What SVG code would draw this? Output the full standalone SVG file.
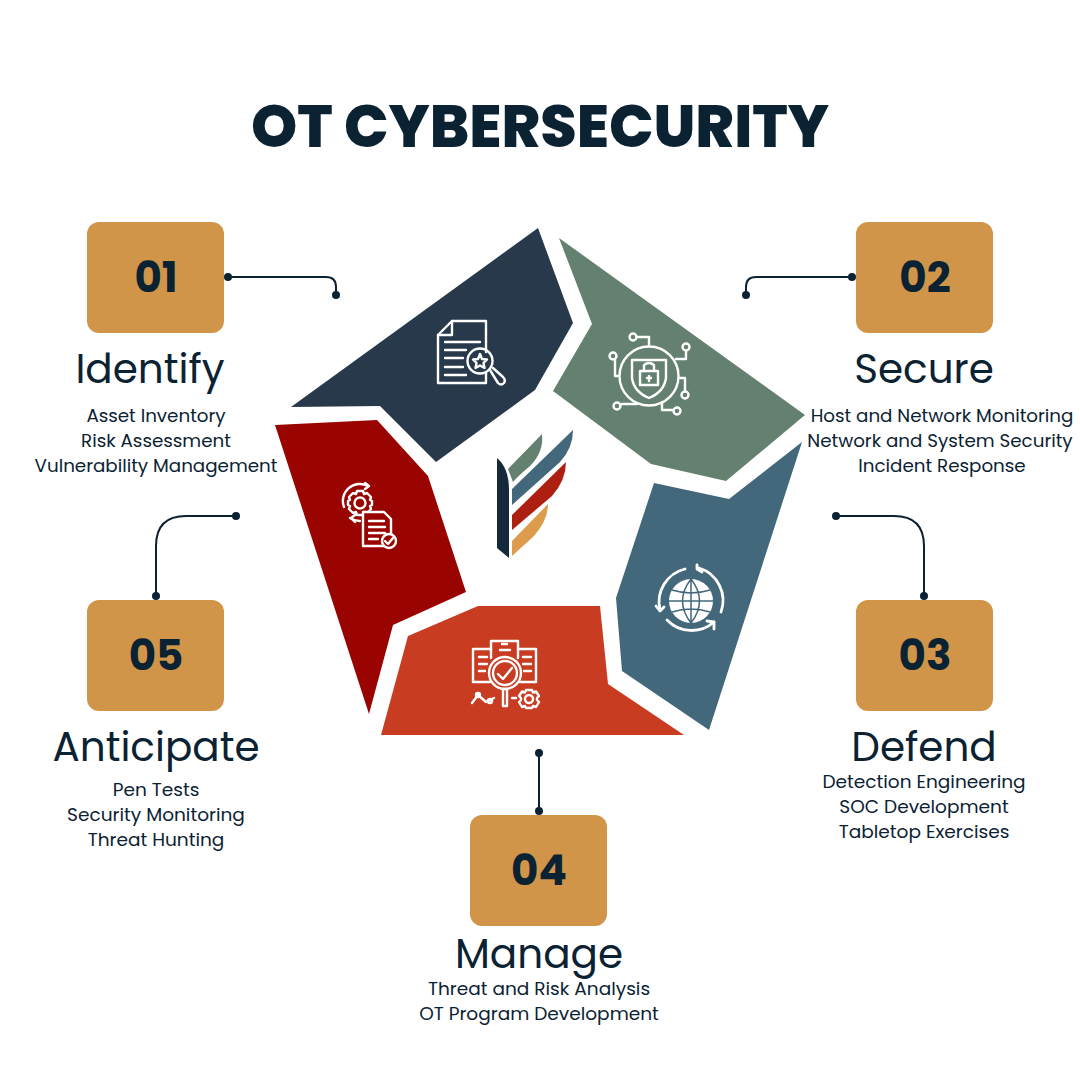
<svg xmlns="http://www.w3.org/2000/svg" width="1080" height="1080" viewBox="0 0 1080 1080">
<style>
text{font-family:Poppins,"Open Sans","Noto Sans",sans-serif;fill:#0b2233;text-anchor:middle}
.t{font-size:58.800px;font-weight:800}
.n{font-size:42px;font-weight:700}
.h{font-size:40.500px}
.s{font-size:18.300px}
.m{font-size:18.550px}
.b{fill:#d19549}
.c{fill:none;stroke:#0b2233;stroke-width:2}
.d{fill:#0b2233}
.i{fill:none;stroke:#fff;stroke-width:2.400;stroke-linejoin:round;stroke-linecap:round}
.f{fill:#fff}
</style>
<rect width="1080" height="1080" fill="#fff"/>
<text class="t" x="540" y="147">OT CYBERSECURITY</text>

<g id="connectors">
<path class="c" d="M228 277H326Q336 277 336 287V295"/><circle class="d" cx="228" cy="277" r="4"/><circle class="d" cx="336" cy="295" r="4"/>
<path class="c" d="M852 277H756Q746 277 746 287V295"/><circle class="d" cx="852" cy="277" r="4"/><circle class="d" cx="746" cy="295" r="4"/>
<path class="c" d="M836 516H894Q924 516 924 546V596"/><circle class="d" cx="836" cy="516" r="4"/><circle class="d" cx="924" cy="596" r="4"/>
<path class="c" d="M539 753V811"/><circle class="d" cx="539" cy="753" r="4"/><circle class="d" cx="539" cy="811" r="4"/>
<path class="c" d="M236 516H186Q156 516 156 546V596"/><circle class="d" cx="236" cy="516" r="4"/><circle class="d" cx="156" cy="596" r="4"/>
</g>

<g id="segment-identify">
<path fill="#27394a" d="M538 228L573 323L535 390L436 462L380 406L291 407Z"/>
<g class="i">
<path d="M486 352V321H452L438 335V383H486V373"/><path d="M452 321V335H438"/>
<path d="M445 342H480M445 350H466M445 358H463M445 367H463M445 375H466"/>
<circle cx="480" cy="361" r="12.500"/>
<path d="M480 354L482 359L487 359.500L483.500 363L484.500 368L480 365.500L475.500 368L476.500 363L473 359.500L478 359Z"/>
<path d="M490 370L498 383Q501 386 504 383Q506 380 503 377L493 368"/>
</g></g>

<g id="segment-secure">
<path fill="#648070" d="M559 238L805 415L726 481L651 464L553 391L592 324Z"/>
<g class="i">
<circle cx="649" cy="376" r="29.500"/>
<path d="M632 360H666V378Q664 392 649 398Q634 392 632 378Z"/>
<rect x="640" y="371" width="18" height="14"/><path d="M644 371V365Q649 361 654 365V371"/>
<path d="M649 376V381M647 378H651"/>
<path d="M649 345V337H637M676 359H686V351M680 378H685V391M662 402V410H673M637 404H622M618 376H615V360"/>
<circle cx="633" cy="337" r="3.500"/><circle cx="686" cy="347" r="3.500"/><circle cx="685" cy="395" r="3.500"/><circle cx="677" cy="411" r="3.500"/><circle cx="617" cy="406" r="3.500"/><circle cx="613" cy="356" r="3.500"/>
</g></g>

<g id="segment-defend">
<path fill="#43687b" d="M802 442L709 730L622 671L616 598L654 483L729 499Z"/>
<g>
<circle class="f" cx="691" cy="601" r="22"/>
<path fill="none" stroke="#43687b" stroke-width="1.500" d="M669 601H713M691 579V623M672 590Q691 596 710 590M672 612Q691 606 710 612M691 579Q674 601 691 623M691 579Q708 601 691 623"/>
<g class="i" style="stroke-width:2.800">
<path d="M685 569A34 34 0 0 0 660 610M699 568A34 34 0 0 1 721 612M667 620A34 34 0 0 0 714 622"/>
<path d="M697 565L697 569L702 572M656 606L660 611L664 607M707 621L714 622L714 629"/>
</g></g></g>

<g id="segment-manage">
<path fill="#c83c22" d="M478 606L600 606L608 684L684 735L381 735L408 636Z"/>
<g class="i">
<path d="M491 658V641H518V658"/>
<path d="M491 649H473V682H490M518 649H536V682H520"/>
<path d="M479 657H487M479 664H487M479 671H485M523 657H531M523 664H531M524 671H531M502 644H507M500 650H510"/>
<circle cx="505" cy="673" r="16"/><circle cx="505" cy="673" r="12"/>
<path d="M498 674L503 679L512 668"/>
<path d="M503 689V706H507V689Z M512 698H516"/>
<path d="M472 703L478 695L486 702L494 698"/><circle cx="478" cy="695" r="2"/><circle cx="490" cy="701" r="2"/>
<circle cx="529" cy="699" r="4"/><path d="M526 690H532L533 692.500L536 691.500L539 696L537 698V700L539 702L536 707L533 706L532 708H526L525 706L522 707L519 702L521 700V698L519 696L522 691.500L525 692.500Z"/>
</g></g>

<g id="segment-anticipate">
<path fill="#990400" d="M275 425L377 420L428 476L466 592L393 625L369 714Z"/>
<g class="i">
<circle cx="360" cy="503" r="5.500"/>
<path d="M357 491H363L364 494L367 493L371 497L370 500L372 501V505L370 506L371 509L367 513L364 512L363 515H357L356 512L353 513L349 509L350 506L348 505V501L350 500L349 497L353 493L356 494Z"/>
<path d="M344 507A17 17 0 0 1 368 486M350 518A17 17 0 0 0 360 521"/>
<path d="M365 483L369 486L365 489M355 515L351 518L355 522"/>
<path fill="#990400" d="M363 512H384L391 519V546H363Z"/>
<path d="M369 521H384M369 527H385M369 533H385M369 539H378"/>
<circle cx="389" cy="541" r="7" fill="#990400"/><path d="M385 541L388 544L393 538"/>
</g></g>

<g id="logo">
<path fill="#15293a" d="M497 458Q509 468 509 490V558L497 548Z"/>
<path fill="#648070" d="M508 469L542 434Q544 452 530 466Q518 476 513 482Z"/>
<path fill="#43687b" d="M512 489L573 430Q573 448 560 462L512 505Z"/>
<path fill="#ad1f10" d="M512 515L566 462Q566 480 552 496L512 530Z"/>
<path fill="#dc9c4c" d="M512 541L548 504Q548 520 534 536L512 556Z"/>
</g>

<g id="node-01"><rect class="b" x="87" y="222" width="137" height="111" rx="12"/><text class="n" x="156" y="292">01</text>
<text class="h" x="150" y="383">Identify</text>
<text class="s" x="156" y="422">Asset Inventory</text><text class="s" x="156" y="447">Risk Assessment</text><text class="s" x="156" y="472">Vulnerability Management</text></g>
<g id="node-02"><rect class="b" x="856" y="222" width="137" height="111" rx="12"/><text class="n" x="925" y="292">02</text>
<text class="h" x="924" y="383">Secure</text>
<text class="s" x="942" y="422">Host and Network Monitoring</text><text class="s" x="940" y="447">Network and System Security</text><text class="s" x="942" y="472">Incident Response</text></g>
<g id="node-03"><rect class="b" x="856" y="600" width="137" height="111" rx="12"/><text class="n" x="925" y="670">03</text>
<text class="h" x="924" y="761">Defend</text>
<text class="m" x="924" y="788">Detection Engineering</text><text class="m" x="924" y="813">SOC Development</text><text class="m" x="924" y="838">Tabletop Exercises</text></g>
<g id="node-04"><rect class="b" x="470" y="815" width="137" height="111" rx="12"/><text class="n" x="539" y="885">04</text>
<text class="h" x="539" y="968">Manage</text>
<text class="m" x="539" y="995">Threat and Risk Analysis</text><text class="m" x="539" y="1020">OT Program Development</text></g>
<g id="node-05"><rect class="b" x="87" y="600" width="137" height="111" rx="12"/><text class="n" x="156" y="670">05</text>
<text class="h" x="156" y="761">Anticipate</text>
<text class="m" x="156" y="796">Pen Tests</text><text class="m" x="156" y="821">Security Monitoring</text><text class="m" x="156" y="846">Threat Hunting</text></g>
</svg>
